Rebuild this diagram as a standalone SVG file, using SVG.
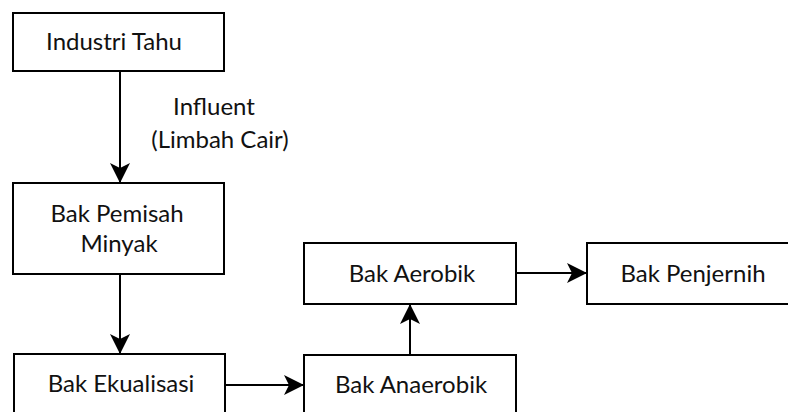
<svg xmlns="http://www.w3.org/2000/svg" width="788" height="412" viewBox="0 0 788 412">
<style>
.box{fill:#fff;stroke:#000;stroke-width:2}
.t{font-family:Lato,"Open Sans","Liberation Sans",sans-serif;font-size:24px;fill:#111;text-anchor:middle}
.c{fill:none;stroke:#000;stroke-width:2}
</style>
<defs>
<marker id="ah" viewBox="0 0 20 20" refX="19" refY="10" markerWidth="20" markerHeight="20" markerUnits="userSpaceOnUse" orient="auto">
<path d="M0,0 L20,10 L0,20 L5,10 Z" fill="#000"/>
</marker>
</defs>
<rect width="788" height="412" fill="#fff"/>
<g id="n1"><rect class="box" x="13" y="13" width="211" height="58"/><text class="t" x="114" y="50">Industri Tahu</text></g>
<g id="n2"><rect class="box" x="13" y="183" width="211" height="91"/><text class="t" x="117" y="222">Bak Pemisah</text><text class="t" x="119" y="252">Minyak</text></g>
<g id="n3"><rect class="box" x="14" y="354" width="211" height="70"/><text class="t" x="121" y="392">Bak Ekualisasi</text></g>
<g id="n4"><rect class="box" x="304" y="355" width="212" height="70"/><text class="t" x="411" y="393">Bak Anaerobik</text></g>
<g id="n5"><rect class="box" x="304" y="243" width="212" height="61"/><text class="t" x="412" y="282">Bak Aerobik</text></g>
<g id="n6"><rect class="box" x="587" y="243" width="210" height="61"/><text class="t" x="693" y="282">Bak Penjernih</text></g>
<g id="lbl"><text class="t" x="214" y="115">Influent</text><text class="t" x="220" y="148">(Limbah Cair)</text></g>
<g id="connectors">
<line class="c" x1="120" y1="71" x2="120" y2="182" marker-end="url(#ah)"/>
<line class="c" x1="120" y1="274" x2="120" y2="353" marker-end="url(#ah)"/>
<line class="c" x1="225" y1="385" x2="303" y2="385" marker-end="url(#ah)"/>
<line class="c" x1="410" y1="355" x2="410" y2="305" marker-end="url(#ah)"/>
<line class="c" x1="516" y1="273" x2="586" y2="273" marker-end="url(#ah)"/>
</g>
</svg>
